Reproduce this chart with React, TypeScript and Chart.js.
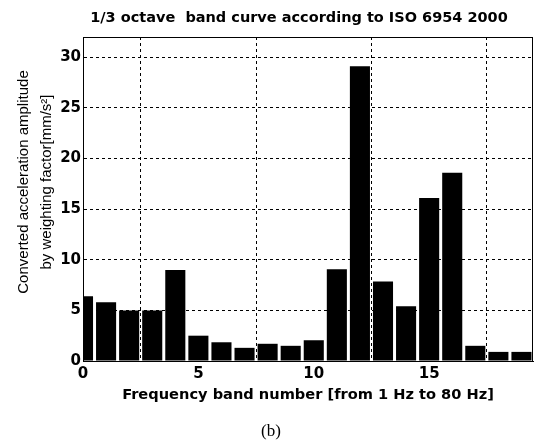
import React, { useEffect, useRef } from "react";
import { Chart, registerables } from "chart.js";

Chart.register(...registerables);

const bandNumbers = [0, 1, 2, 3, 4, 5, 6, 7, 8, 9, 10, 11, 12, 13, 14, 15, 16, 17, 18, 19];
const amplitudes = [6.4, 5.8, 5.0, 5.0, 9.0, 2.5, 1.85, 1.3, 1.7, 1.5, 2.05, 9.05, 29.1, 7.85, 5.4, 16.1, 18.6, 1.5, 0.9, 0.9];
const titleText = "1/3 octave  band curve according to ISO 6954 2000";
const xTitle = "Frequency band number [from 1 Hz to 80 Hz]";
const yTitleLines = ["Converted acceleration amplitude", "by weighting factor[mm/s\u00B2]"];
const caption = "(b)";

const textPlugin = {
  id: "textPlugin",
  afterDraw(chart: any) {
    const ctx = chart.ctx;
    const a = chart.chartArea;
    ctx.save();
    // frame
    ctx.strokeStyle = "#000";
    ctx.lineWidth = 1;
    ctx.setLineDash([]);
    ctx.strokeRect(a.left + 0.5, a.top + 0.5, a.right - a.left - 1, a.bottom - a.top);
    ctx.fillStyle = "#000";
    ctx.textAlign = "center";
    ctx.textBaseline = "middle";
    // title
    ctx.font = "bold 14.5px 'DejaVu Sans', sans-serif";
    ctx.fillText(titleText, 299, 18);
    // y title
    ctx.font = "15px 'Liberation Sans', Arial, sans-serif";
    const yc = 182;
    const xs = [24, 47];
    yTitleLines.forEach((line, i) => {
      ctx.save();
      ctx.translate(xs[i], yc);
      ctx.rotate(-Math.PI / 2);
      ctx.fillText(line, 0, 0);
      ctx.restore();
    });
    // caption
    ctx.font = "17px 'Liberation Serif', 'DejaVu Serif', serif";
    ctx.fillText(caption, 271, 432);
    ctx.restore();
  },
};

export default function App() {
  const ref = useRef<HTMLCanvasElement | null>(null);
  useEffect(() => {
    if (!ref.current) return;
    const chart = new Chart(ref.current, {
      type: "bar",
      data: {
        datasets: [
          {
            data: bandNumbers.map((x, i) => ({ x, y: amplitudes[i] })),
            backgroundColor: "#000",
            borderWidth: 0,
            barPercentage: 0.87,
            categoryPercentage: 1,
          },
        ],
      },
      options: {
        animation: false,
        responsive: false,
        events: [],
        layout: { padding: { left: 0, top: 37, right: 5, bottom: 41 } },
        plugins: { legend: { display: false }, title: { display: false }, tooltip: { enabled: false } },
        scales: {
          x: {
            type: "linear",
            min: 0,
            max: 19.5,
            offset: false,
            afterFit: (s: any) => {
              s.height = 44;
            },
            ticks: {
              stepSize: 5,
              includeBounds: false,
              color: "#000",
              padding: 4,
              font: { family: "'DejaVu Sans', sans-serif", weight: "bold", size: 15 },
            },
            grid: { color: "#000", lineWidth: 1, drawTicks: false },
            border: { display: true, color: "#000", dash: [3, 3] },
            title: {
              display: true,
              text: xTitle,
              color: "#000",
              padding: { top: 0, bottom: 1 },
              font: { family: "'DejaVu Sans', sans-serif", weight: "bold", size: 14.6 },
            },
          },
          y: {
            min: 0,
            max: 32,
            afterFit: (s: any) => {
              s.width = 83;
            },
            ticks: {
              stepSize: 5,
              includeBounds: false,
              color: "#000",
              padding: 2,
              font: { family: "'DejaVu Sans', sans-serif", weight: "bold", size: 15 },
            },
            grid: { color: "#000", lineWidth: 1, drawTicks: false },
            border: { display: true, color: "#000", dash: [3, 3] },
          },
        },
      },
      plugins: [textPlugin],
    } as any);
    return () => chart.destroy();
  }, []);
  return (
    <div style={{ position: "fixed", left: 0, top: 0, width: 538, height: 446, background: "#fff" }}>
      <canvas ref={ref} width={538} height={446} style={{ width: 538, height: 446 }} />
    </div>
  );
}
